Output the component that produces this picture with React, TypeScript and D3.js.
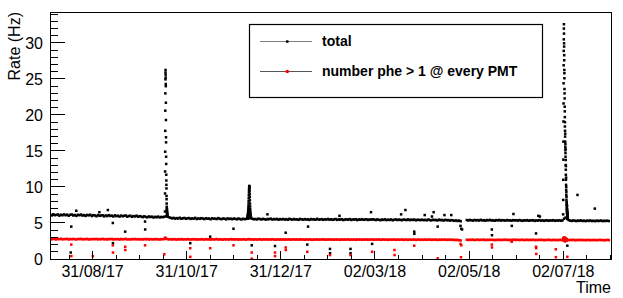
import React from 'react';
import * as d3 from 'd3';

const W = 623;
const H = 298;
const margin = { top: 12, right: 12, bottom: 39, left: 50 };

// daily rates from 2017-08-03 (one value per day, null = no data)
const dailyStart = '2017-08-03';
const totalDaily: (number | null)[] = [
  // Aug
  6.17, 6.05, 6.21, 6.09, 6.12, 6.19, 6.02, 6.15, 6.07, 6.20,
  6.08, 6.16, 6.01, 6.13, 6.18, 6.04, 6.11, 5.99, 6.14, 6.08,
  6.17, 6.03, 6.10, 5.98, 6.12, 6.06, 6.15, 5.97, 6.09,
  // Sep
  6.05, 5.94, 6.10, 5.99, 6.03, 6.08, 5.92, 6.04, 5.96, 6.09,
  5.98, 6.02, 5.90, 6.06, 5.95, 6.01, 5.89, 6.03, 5.94, 5.99,
  6.04, 5.88, 5.97, 6.00, 5.86, 5.96, 5.91, 6.01, 5.87, 5.95,
  // Oct
  5.90, 5.81, 5.93, 5.84, 5.79, 5.91, 5.83, 5.88, 5.76, 5.86,
  5.80, 5.89, 5.77, 5.84, 5.81, 5.86,
  5.95, 5.88, 5.80, 5.72, 5.64, 5.71, 5.60, 5.68, 5.62, 5.73,
  5.59, 5.66, 5.70, 5.58, 5.65,
  // Nov
  5.69, 5.57, 5.64, 5.60, 5.71, 5.55, 5.63, 5.58, 5.67, 5.61,
  5.54, 5.66, 5.59, 5.62, 5.52, 5.65, 5.58, 5.61, 5.55, 5.68,
  5.57, 5.53, 5.62, 5.59, 5.50, 5.64, 5.56, 5.60, 5.53, 5.61,
  // Dec
  5.58, 5.51, 5.62, 5.55, 5.49, 5.59, 5.53, 5.57, 5.60, 5.66,
  5.72, 5.58, 5.52, 5.56, 5.49, 5.61, 5.54, 5.50, 5.58, 5.52,
  5.47, 5.56, 5.53, 5.60, 5.48, 5.55, 5.51, 5.57, 5.46, 5.54,
  5.50,
  // Jan
  5.56, 5.48, 5.53, 5.45, 5.58, 5.51, 5.47, 5.55, 5.49, 5.52,
  5.44, 5.57, 5.50, 5.46, 5.54, 5.48, 5.51, 5.43, 5.55, 5.49,
  5.52, 5.45, 5.58, 5.47, 5.50, 5.53, 5.44, 5.51, 5.48, 5.56,
  5.46,
  // Feb
  5.52, 5.44, 5.49, 5.55, 5.43, 5.50, 5.46, 5.53, 5.41, 5.48,
  5.51, 5.45, 5.54, 5.42, 5.49, 5.47, 5.52, 5.40, 5.50, 5.45,
  5.53, 5.44, 5.48, 5.51, 5.42, 5.49, 5.46, 5.52,
  // Mar
  5.47, 5.41, 5.50, 5.44, 5.39, 5.48, 5.43, 5.51, 5.40, 5.46,
  5.42, 5.49, 5.38, 5.45, 5.50, 5.41, 5.47, 5.43, 5.39, 5.48,
  5.44, 5.41, 5.50, 5.40, 5.46, 5.42, 5.48, 5.37, 5.45, 5.43,
  5.40,
  // Apr
  5.46, 5.39, 5.44, 5.37, 5.48, 5.41, 5.36, 5.45, 5.40, 5.43,
  5.35, 5.47, 5.39, 5.42, 5.34, 5.44, 5.38, 5.41, 5.33, 5.40,
  5.36, 5.30, 5.37, 5.28, 5.33, 5.25,
  null, null, null,
  // Apr 30 - May
  5.41, 5.35, 5.43, 5.38, 5.33, 5.42, 5.37, 5.40, 5.34, 5.44,
  5.36, 5.39, 5.32, 5.41, 5.37, 5.43, 5.35, 5.38, 5.31, 5.40,
  5.36, 5.42, 5.34, 5.39, 5.37, 5.33, 5.41, 5.35, 5.38, 5.32,
  5.40, 5.36,
  // Jun
  5.39, 5.33, 5.41, 5.35, 5.30, 5.38, 5.34, 5.40, 5.31, 5.37,
  5.35, 5.39, 5.29, 5.36, 5.33, 5.40, 5.32, 5.37, 5.30, 5.35,
  5.38, 5.31, 5.36, 5.34, 5.39, 5.30, 5.35, 5.33, 5.37, 5.31,
  // Jul
  5.36, 5.60, 5.75, 5.55, 5.40, 5.33, 5.29, 5.35, 5.31, 5.27,
  5.34, 5.30, 5.36, 5.28, 5.32, 5.26, 5.33, 5.29, 5.35, 5.27,
  5.31, 5.25, 5.33, 5.28, 5.30, 5.34, 5.26, 5.31, 5.28, 5.32,
  5.27,
];

const pheDaily: (number | null)[] = [
  2.78, 2.74, 2.80, 2.76, 2.72, 2.79, 2.75, 2.81, 2.73, 2.77,
  2.76, 2.80, 2.71, 2.78, 2.74, 2.79, 2.75, 2.72, 2.78, 2.76,
  2.80, 2.73, 2.77, 2.75, 2.79, 2.71, 2.76, 2.74, 2.78,
  2.75, 2.79, 2.72, 2.77, 2.74, 2.80, 2.73, 2.76, 2.71, 2.78,
  2.75, 2.79, 2.72, 2.76, 2.74, 2.77, 2.70, 2.78, 2.73, 2.76,
  2.79, 2.72, 2.75, 2.71, 2.77, 2.74, 2.78, 2.73, 2.76, 2.72,
  2.75, 2.71, 2.77, 2.73, 2.78, 2.70, 2.76, 2.74, 2.72, 2.77,
  2.73, 2.75, 2.70, 2.76, 2.74, 2.79, 2.84, 2.77, 2.72, 2.75,
  2.71, 2.76, 2.73, 2.70, 2.75, 2.72, 2.77, 2.71, 2.74, 2.72, 2.76,
  2.73, 2.70, 2.75, 2.72, 2.76, 2.69, 2.74, 2.71, 2.75, 2.73,
  2.70, 2.76, 2.72, 2.74, 2.69, 2.75, 2.71, 2.73, 2.77, 2.70,
  2.74, 2.72, 2.68, 2.75, 2.71, 2.73, 2.70, 2.76, 2.72, 2.74,
  2.71, 2.74, 2.69, 2.73, 2.70, 2.75, 2.72, 2.68, 2.74, 2.76,
  2.71, 2.73, 2.69, 2.74, 2.70, 2.72, 2.75, 2.68, 2.73, 2.71,
  2.74, 2.69, 2.72, 2.70, 2.75, 2.71, 2.67, 2.73, 2.70, 2.72, 2.69,
  2.73, 2.69, 2.72, 2.70, 2.74, 2.67, 2.71, 2.73, 2.69, 2.72,
  2.68, 2.74, 2.70, 2.71, 2.67, 2.73, 2.69, 2.72, 2.70, 2.66,
  2.72, 2.69, 2.73, 2.68, 2.71, 2.70, 2.74, 2.67, 2.71, 2.69, 2.72,
  2.68, 2.71, 2.67, 2.72, 2.69, 2.70, 2.66, 2.72, 2.68, 2.71,
  2.69, 2.73, 2.67, 2.70, 2.68, 2.71, 2.66, 2.72, 2.69, 2.70,
  2.67, 2.71, 2.68, 2.72, 2.66, 2.70, 2.69, 2.71,
  2.67, 2.70, 2.68, 2.72, 2.66, 2.69, 2.71, 2.67, 2.70, 2.65,
  2.71, 2.68, 2.69, 2.72, 2.66, 2.70, 2.67, 2.69, 2.71, 2.65,
  2.70, 2.68, 2.66, 2.71, 2.67, 2.69, 2.70, 2.65, 2.68, 2.71, 2.66,
  2.69, 2.66, 2.70, 2.67, 2.68, 2.71, 2.65, 2.69, 2.67, 2.70,
  2.64, 2.68, 2.66, 2.70, 2.67, 2.69, 2.65, 2.68, 2.66, 2.70,
  2.64, 2.67, 2.62, 2.66, 2.60, 2.58,
  null, null, null,
  2.67, 2.64, 2.68, 2.65, 2.69, 2.63, 2.66, 2.68, 2.64, 2.67,
  2.65, 2.69, 2.63, 2.66, 2.64, 2.68, 2.65, 2.67, 2.62, 2.66,
  2.64, 2.68, 2.63, 2.67, 2.65, 2.69, 2.64, 2.66, 2.62, 2.67, 2.65, 2.68,
  2.64, 2.67, 2.63, 2.66, 2.68, 2.62, 2.65, 2.67, 2.63, 2.66,
  2.64, 2.68, 2.62, 2.65, 2.63, 2.67, 2.64, 2.66, 2.61, 2.65,
  2.63, 2.67, 2.64, 2.62, 2.66, 2.63, 2.65, 2.61, 2.66, 2.64,
  2.63, 2.78, 2.70, 2.66, 2.62, 2.65, 2.63, 2.67, 2.61, 2.64,
  2.62, 2.66, 2.63, 2.65, 2.61, 2.64, 2.62, 2.66, 2.60, 2.64,
  2.63, 2.65, 2.61, 2.63, 2.66, 2.62, 2.64, 2.60, 2.63, 2.65, 2.62,
];

// bursts sampled more finely: start time, step in hours, values
const spike1Start = '2017-10-16T22:00';
const spike1Total = [6.6, 9.1, 12.15, 14.9, 17.8, 20.6, 23.0, 24.95, 25.9, 26.25, 25.6, 25.2, 24.3, 24.0,
  21.7, 19.3, 16.9, 16.2, 14.2, 13.2, 11.7, 10.9, 10.3, 9.8, 8.75, 8.3, 7.7, 7.25, 6.9, 6.6, 7.0, 6.4,
  6.8, 6.2, 6.5, 6.1, 6.3, 6.0];
const spike2Start = '2017-12-09T09:00';
const spike2Total = [5.65, 5.75, 5.85, 5.95, 6.05, 6.2, 6.35, 6.55, 6.8, 7.05, 7.35, 7.7, 8.05, 8.45, 8.85,
  9.25, 9.6, 9.85, 10.05, 10.15, 10.0, 9.75, 9.4, 9.0, 8.6, 8.15, 7.7, 7.3, 6.95, 6.65, 6.4, 6.2, 6.05,
  5.95, 5.85, 5.78, 5.72, 5.68];
const spike3Start = '2018-07-01T22:00';
const spike3Total = [6.2, 8.2, 11.0, 13.8, 16.3, 19.1, 21.6, 24.4, 26.9, 28.9, 30.5, 32.0, 32.6,
  31.3, 29.95, 29.5, 28.3, 27.6, 26.25, 25.8, 25.1, 23.6, 23.0, 22.3, 21.15, 20.5, 19.7, 18.4, 19.0,
  17.8, 17.0, 16.3, 17.4, 15.6, 15.1, 16.0, 14.7, 14.2, 15.3, 13.05, 13.75, 12.4, 11.7, 12.9, 11.0,
  10.3, 11.3, 9.6, 10.0, 8.9, 9.3, 8.2, 8.6, 7.5, 7.9, 7.0, 7.7, 6.6, 7.2, 6.8, 6.3, 7.4, 6.5, 6.9,
  6.1, 6.6, 6.0, 6.4, 5.9, 6.2, 5.8, 5.7];
const pheSpike1Start = '2017-10-17T00:00';
const pheSpike1 = [2.9, 2.85, 2.95, 2.8];
const pheSpike3Start = '2018-07-02T00:00';
const pheSpike3 = [2.9, 2.55, 3.0, 2.8, 2.45, 2.95, 2.6, 2.85, 2.5, 2.75];

const totalOutliers: [string, number][] = [
  ['2017-08-16T20:00', 0.9], ['2017-08-17T05:00', 4.5], ['2017-08-20T10:00', 6.7],
  ['2017-09-04T10:00', 6.5], ['2017-09-09T22:00', 6.8], ['2017-09-13T03:00', 5.0],
  ['2017-09-13T05:00', 2.2], ['2017-09-21T03:00', 3.8], ['2017-10-04T00:00', 5.2],
  ['2017-10-04T02:00', 4.1], ['2017-11-02T07:00', 2.2], ['2017-11-15T05:00', 3.1],
  ['2017-11-30T07:00', 4.2], ['2017-12-12T03:00', 1.9], ['2017-12-22T07:00', 6.2],
  ['2017-12-27T05:00', 1.8], ['2018-01-03T03:00', 3.65], ['2018-01-17T03:00', 2.0],
  ['2018-01-17T15:00', 4.5], ['2018-01-31T20:00', 1.4], ['2018-01-31T21:00', 0.8],
  ['2018-02-07T00:00', 6.0], ['2018-02-14T03:00', 1.4], ['2018-02-14T04:00', 0.8],
  ['2018-02-28T03:00', 2.1], ['2018-02-27T10:00', 6.5], ['2018-03-18T22:00', 6.2],
  ['2018-03-21T17:00', 6.8], ['2018-03-27T10:00', 3.8], ['2018-03-27T12:00', 3.5],
  ['2018-04-03T05:00', 6.1], ['2018-04-09T00:00', 6.5], ['2018-04-07T22:00', 5.9],
  ['2018-04-11T15:00', 4.5], ['2018-04-16T00:00', 6.1], ['2018-04-20T10:00', 6.1],
  ['2018-04-26T10:00', 4.6], ['2018-04-26T22:00', 4.2], ['2018-04-27T10:00', 4.1],
  ['2018-05-16T17:00', 4.1], ['2018-05-16T19:00', 3.3], ['2018-05-30T17:00', 6.25],
  ['2018-05-29T15:00', 4.6], ['2018-06-14T08:00', 3.55], ['2018-06-15T20:00', 6.0],
  ['2018-06-16T20:00', 5.9], ['2018-07-04T15:00', 1.85], ['2018-07-22T10:00', 7.0],
  ['2018-07-11T05:00', 8.9],
];

const pheOutliers: [string, number][] = [
  ['2017-08-17T05:00', 2.0], ['2017-08-17T06:00', 0.4], ['2017-08-31T05:00', 0.4],
  ['2017-09-13T03:00', 1.9], ['2017-09-13T05:00', 0.9], ['2017-09-21T03:00', 1.7],
  ['2017-09-21T05:00', 1.25], ['2017-10-04T00:00', 1.9], ['2017-10-16T12:00', 0.65],
  ['2017-11-02T07:00', 1.5], ['2017-11-02T08:00', 0.3], ['2017-11-15T05:00', 1.5],
  ['2017-11-30T07:00', 1.9], ['2017-12-12T03:00', 0.9], ['2017-12-12T04:00', 0.05],
  ['2017-12-27T05:00', 0.9], ['2017-12-27T06:00', 0.4], ['2018-01-03T03:00', 1.6],
  ['2018-01-03T05:00', 1.25], ['2018-01-17T03:00', 1.0], ['2018-01-31T20:00', 0.55],
  ['2018-02-14T03:00', 0.55], ['2018-02-28T03:00', 1.0], ['2018-03-14T15:00', 1.25],
  ['2018-03-14T16:00', 0.55], ['2018-03-27T10:00', 1.85], ['2018-04-11T15:00', 0.1],
  ['2018-04-26T10:00', 2.1], ['2018-04-26T22:00', 1.9], ['2018-04-26T17:00', 0.25],
  ['2018-05-16T17:00', 2.0], ['2018-05-16T19:00', 1.6], ['2018-05-29T15:00', 2.4],
  ['2018-06-14T08:00', 1.7], ['2018-06-14T10:00', 1.5], ['2018-06-14T12:00', 0.7],
  ['2018-06-27T03:00', 1.35], ['2018-06-27T05:00', 0.25], ['2018-07-04T15:00', 0.3],
];

const xTickDates = ['2017-08-31', '2017-10-31', '2017-12-31', '2018-03-02', '2018-05-02', '2018-07-02'];
const yTicks = [0, 5, 10, 15, 20, 25, 30];

const parseDay = d3.utcParse('%Y-%m-%d');
const parseTime = d3.utcParse('%Y-%m-%dT%H:%M');
const fmt = d3.utcFormat('%d/%m/%y');
const HOUR = 3600 * 1000;

type Pt = { t: Date; v: number };

function daily(start: string, vals: (number | null)[]): Pt[] {
  const s = parseDay(start)!.getTime() + 12 * HOUR;
  const out: Pt[] = [];
  vals.forEach((v, i) => { if (v != null) out.push({ t: new Date(s + i * 24 * HOUR), v }); });
  return out;
}
function burst(start: string, stepH: number, vals: number[]): Pt[] {
  const s = parseTime(start)!.getTime();
  return vals.map((v, i) => ({ t: new Date(s + i * stepH * HOUR), v }));
}
const pts = (list: [string, number][]): Pt[] => list.map(([d, v]) => ({ t: parseTime(d)!, v }));

const totalPts = [
  ...daily(dailyStart, totalDaily),
  ...burst(spike1Start, 1, spike1Total),
  ...burst(spike2Start, 1.5, spike2Total),
  ...burst(spike3Start, 1, spike3Total),
  ...pts(totalOutliers),
];
const phePts = [
  ...daily(dailyStart, pheDaily),
  ...burst(pheSpike1Start, 1, pheSpike1),
  ...burst(pheSpike3Start, 6, pheSpike3),
  ...pts(pheOutliers),
];

const font = '"Liberation Sans", Arial, Helvetica, sans-serif';

export default function App() {
  const x0 = margin.left, x1 = W - margin.right, y0 = margin.top, y1 = H - margin.bottom;
  const x = d3.scaleUtc()
    .domain([new Date(Date.UTC(2017, 7, 3, 10)), new Date(Date.UTC(2018, 7, 1, 22))])
    .range([x0, x1]);
  const y = d3.scaleLinear().domain([0, 34.3]).range([y1, y0]);

  const majors = xTickDates.map(d => parseDay(d)!);
  // 4 sub-divisions between major ticks, extended at both ends
  const step = (majors[1].getTime() - majors[0].getTime()) / 4;
  const minors: Date[] = [];
  for (let t = majors[0].getTime() - 8 * step; t <= x.domain()[1].getTime(); t += step) {
    if (t >= x.domain()[0].getTime()) minors.push(new Date(t));
  }
  const yMinor = d3.range(0, 35, 1);

  const ms = 2.5; // marker size
  return (
    <svg width={W} height={H} style={{ position: 'absolute', left: 0, top: 0, background: '#fff' }}
      fontFamily={font}>
      <defs>
        <clipPath id="plot"><rect x={x0} y={y0} width={x1 - x0} height={y1 - y0} /></clipPath>
      </defs>
      <rect width={W} height={H} fill="#fff" />
      <g clipPath="url(#plot)">
        {totalPts.map((p, i) => (
          <rect key={'t' + i} x={x(p.t) - ms / 2} y={y(p.v) - ms / 2} width={ms} height={ms} fill="#000" />
        ))}
        {phePts.map((p, i) => (
          <rect key={'p' + i} x={x(p.t) - ms / 2} y={y(p.v) - ms / 2} width={ms} height={ms} fill="#ff0000" />
        ))}
      </g>
      <g stroke="#000" strokeWidth={1} shapeRendering="crispEdges">
        <rect x={x0} y={y0} width={x1 - x0} height={y1 - y0} fill="none" />
        {minors.map((d, i) => (
          <line key={'xm' + i} x1={x(d)} x2={x(d)} y1={y1} y2={y1 - 4} />
        ))}
        {majors.map((d, i) => (
          <line key={'xM' + i} x1={x(d)} x2={x(d)} y1={y1} y2={y1 - 8} />
        ))}
        {yMinor.filter(v => y(v) >= y0).map(v => (
          <line key={'ym' + v} x1={x0} x2={x0 + (v % 5 === 0 ? 15 : 7.5)} y1={y(v)} y2={y(v)} />
        ))}
      </g>
      <g fontSize={16} fill="#000">
        {majors.map((d, i) => (
          <text key={'xl' + i} x={x(d)} y={277} textAnchor="middle">{fmt(d)}</text>
        ))}
        {yTicks.map(v => (
          <text key={'yl' + v} x={43} y={y(v) + 6} textAnchor="end">{v}</text>
        ))}
        <text x={x1} y={293} textAnchor="end">Time</text>
        <text transform={`translate(19.5,${y0}) rotate(-90)`} textAnchor="end">Rate (Hz)</text>
      </g>
      <g>
        <rect x={249.5} y={24.5} width={293} height={73} fill="#fff" stroke="#000" strokeWidth={1.2} />
        <line x1={260} x2={312} y1={41.5} y2={41.5} stroke="#808080" strokeWidth={1} />
        <rect x={286} y={40.3} width={2.5} height={2.5} fill="#000" />
        <text x={322} y={46} fontSize={14} fontWeight="bold">total</text>
        <line x1={260} x2={312} y1={71.5} y2={71.5} stroke="#555" strokeWidth={1} />
        <circle cx={287.3} cy={71.5} r={1.8} fill="#ff0000" />
        <text x={322} y={76} fontSize={14} fontWeight="bold">number phe &gt; 1 @ every PMT</text>
      </g>
    </svg>
  );
}
